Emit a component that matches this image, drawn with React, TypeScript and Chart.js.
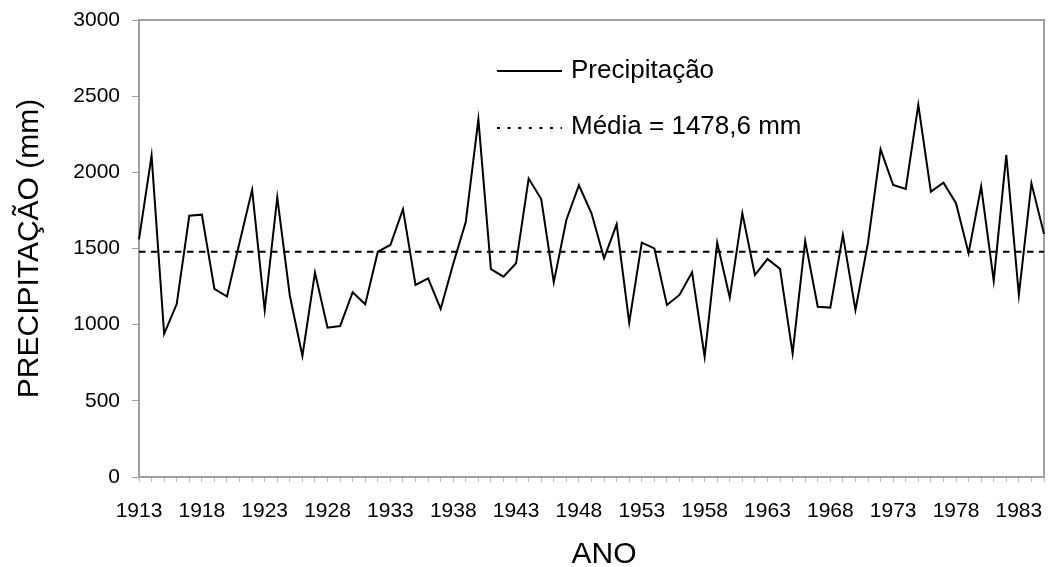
import React, { useEffect, useRef } from "react";
import { Chart, registerables } from "chart.js";

Chart.register(...registerables);

const YEARS: string[] = [
  "1913", "1914", "1915", "1916", "1917", "1918", "1919", "1920", "1921", "1922",
  "1923", "1924", "1925", "1926", "1927", "1928", "1929", "1930", "1931", "1932",
  "1933", "1934", "1935", "1936", "1937", "1938", "1939", "1940", "1941", "1942",
  "1943", "1944", "1945", "1946", "1947", "1948", "1949", "1950", "1951", "1952",
  "1953", "1954", "1955", "1956", "1957", "1958", "1959", "1960", "1961", "1962",
  "1963", "1964", "1965", "1966", "1967", "1968", "1969", "1970", "1971", "1972",
  "1973", "1974", "1975", "1976", "1977", "1978", "1979", "1980", "1981", "1982",
  "1983", "1984", "1985",
];

const PRECIPITACAO: number[] = [
  1560, 2110, 940, 1135, 1715, 1722, 1235, 1185, 1540, 1885,
  1096, 1835, 1190, 795, 1342, 980, 991, 1213, 1134, 1479,
  1523, 1758, 1261, 1304, 1103, 1400, 1676, 2348, 1364, 1315,
  1403, 1959, 1825, 1278, 1687, 1915, 1731, 1436, 1659, 1013,
  1538, 1501, 1129, 1195, 1344, 790, 1538, 1177, 1731, 1326,
  1431, 1366, 812, 1550, 1118, 1112, 1589, 1096, 1540, 2151,
  1917, 1891, 2443, 1873, 1932, 1797, 1469, 1906, 1287, 2114,
  1195, 1928, 1596,
];

const MEDIA = 1478.6;
const LABEL_STEP = 5;
const Y_MIN = 0;
const Y_MAX = 3000;
const Y_STEP = 500;

const LEGEND_SERIES = "Precipitação";
const LEGEND_MEAN = "Média = 1478,6 mm";
const Y_TITLE = "PRECIPITAÇÃO (mm)";
const X_TITLE = "ANO";

const FONT = "'Liberation Sans', Arial, Helvetica, sans-serif";

const framePlugin = {
  id: "frameAndLegend",
  beforeDatasetsDraw(chart: any) {
    const { ctx, chartArea } = chart;
    ctx.save();
    ctx.strokeStyle = "#a0a0a0";
    ctx.lineWidth = 2;
    ctx.strokeRect(chartArea.left, chartArea.top, chartArea.right - chartArea.left, chartArea.bottom - chartArea.top);
    ctx.restore();
  },
  afterDraw(chart: any) {
    const { ctx } = chart;
    ctx.save();
    ctx.strokeStyle = "#000";
    ctx.lineWidth = 2;
    // solid sample
    ctx.beginPath();
    ctx.moveTo(497, 71);
    ctx.lineTo(562, 71);
    ctx.stroke();
    // dotted sample
    ctx.setLineDash([3, 7.6]);
    ctx.beginPath();
    ctx.moveTo(497, 128);
    ctx.lineTo(562, 128);
    ctx.stroke();
    ctx.setLineDash([]);
    ctx.fillStyle = "#000";
    ctx.font = `26px ${FONT}`;
    ctx.textBaseline = "alphabetic";
    ctx.textAlign = "left";
    ctx.fillText(LEGEND_SERIES, 571, 78);
    ctx.fillText(LEGEND_MEAN, 571, 133.5);
    // x axis title
    ctx.font = `30px ${FONT}`;
    ctx.textAlign = "center";
    ctx.fillText(X_TITLE, 604, 563);
    ctx.restore();
  },
};

export default function App() {
  const ref = useRef<HTMLCanvasElement | null>(null);

  useEffect(() => {
    if (!ref.current) return;
    const chart = new Chart(ref.current, {
      type: "line",
      data: {
        labels: YEARS,
        datasets: [
          {
            label: LEGEND_SERIES,
            data: PRECIPITACAO,
            borderColor: "#000",
            borderWidth: 2,
            pointRadius: 0,
            tension: 0,
            fill: false,
          },
          {
            label: LEGEND_MEAN,
            data: YEARS.map(() => MEDIA),
            borderColor: "#000",
            borderWidth: 2,
            borderDash: [6.5, 5.5],
            pointRadius: 0,
            tension: 0,
            fill: false,
          },
        ],
      },
      options: {
        animation: false,
        responsive: false,
        devicePixelRatio: 1,
        layout: { padding: { left: 0, right: 6, top: 20, bottom: 0 } },
        plugins: {
          legend: { display: false },
          tooltip: { enabled: false },
        },
        scales: {
          x: {
            type: "category",
            offset: false,
            afterFit: (scale: any) => {
              scale.height = 90;
              scale.paddingLeft = 0;
              scale.paddingRight = 0;
            },
            grid: {
              display: true,
              drawOnChartArea: false,
              drawTicks: true,
              tickLength: 5,
              color: "#bdbdbd",
              offset: false,
            },
            border: { display: false },
            ticks: {
              autoSkip: false,
              maxRotation: 0,
              minRotation: 0,
              padding: 17,
              color: "#000",
              font: { family: FONT, size: 21 },
              callback: (_v: any, i: number) => (i % LABEL_STEP === 0 ? YEARS[i] : ""),
            },
            title: { display: false, text: X_TITLE },
          },
          y: {
            min: Y_MIN,
            max: Y_MAX,
            afterFit: (scale: any) => {
              scale.width = 139;
              scale.paddingTop = 0;
              scale.paddingBottom = 0;
            },
            grid: {
              display: true,
              drawOnChartArea: false,
              drawTicks: true,
              tickLength: 7,
              color: "#a0a0a0",
            },
            border: { display: false },
            ticks: {
              stepSize: Y_STEP,
              padding: 12,
              color: "#000",
              font: { family: FONT, size: 21 },
              callback: (v: any) => String(v),
            },
            title: {
              display: true,
              text: Y_TITLE,
              color: "#000",
              font: { family: FONT, size: 30 },
              padding: { top: 12, bottom: 0 },
            },
          },
        },
      },
      plugins: [framePlugin],
    });
    return () => chart.destroy();
  }, []);

  return (
    <div style={{ position: "fixed", left: 0, top: 0, width: 1050, height: 567, background: "#fff" }}>
      <canvas ref={ref} width={1050} height={567} style={{ display: "block" }} />
    </div>
  );
}
